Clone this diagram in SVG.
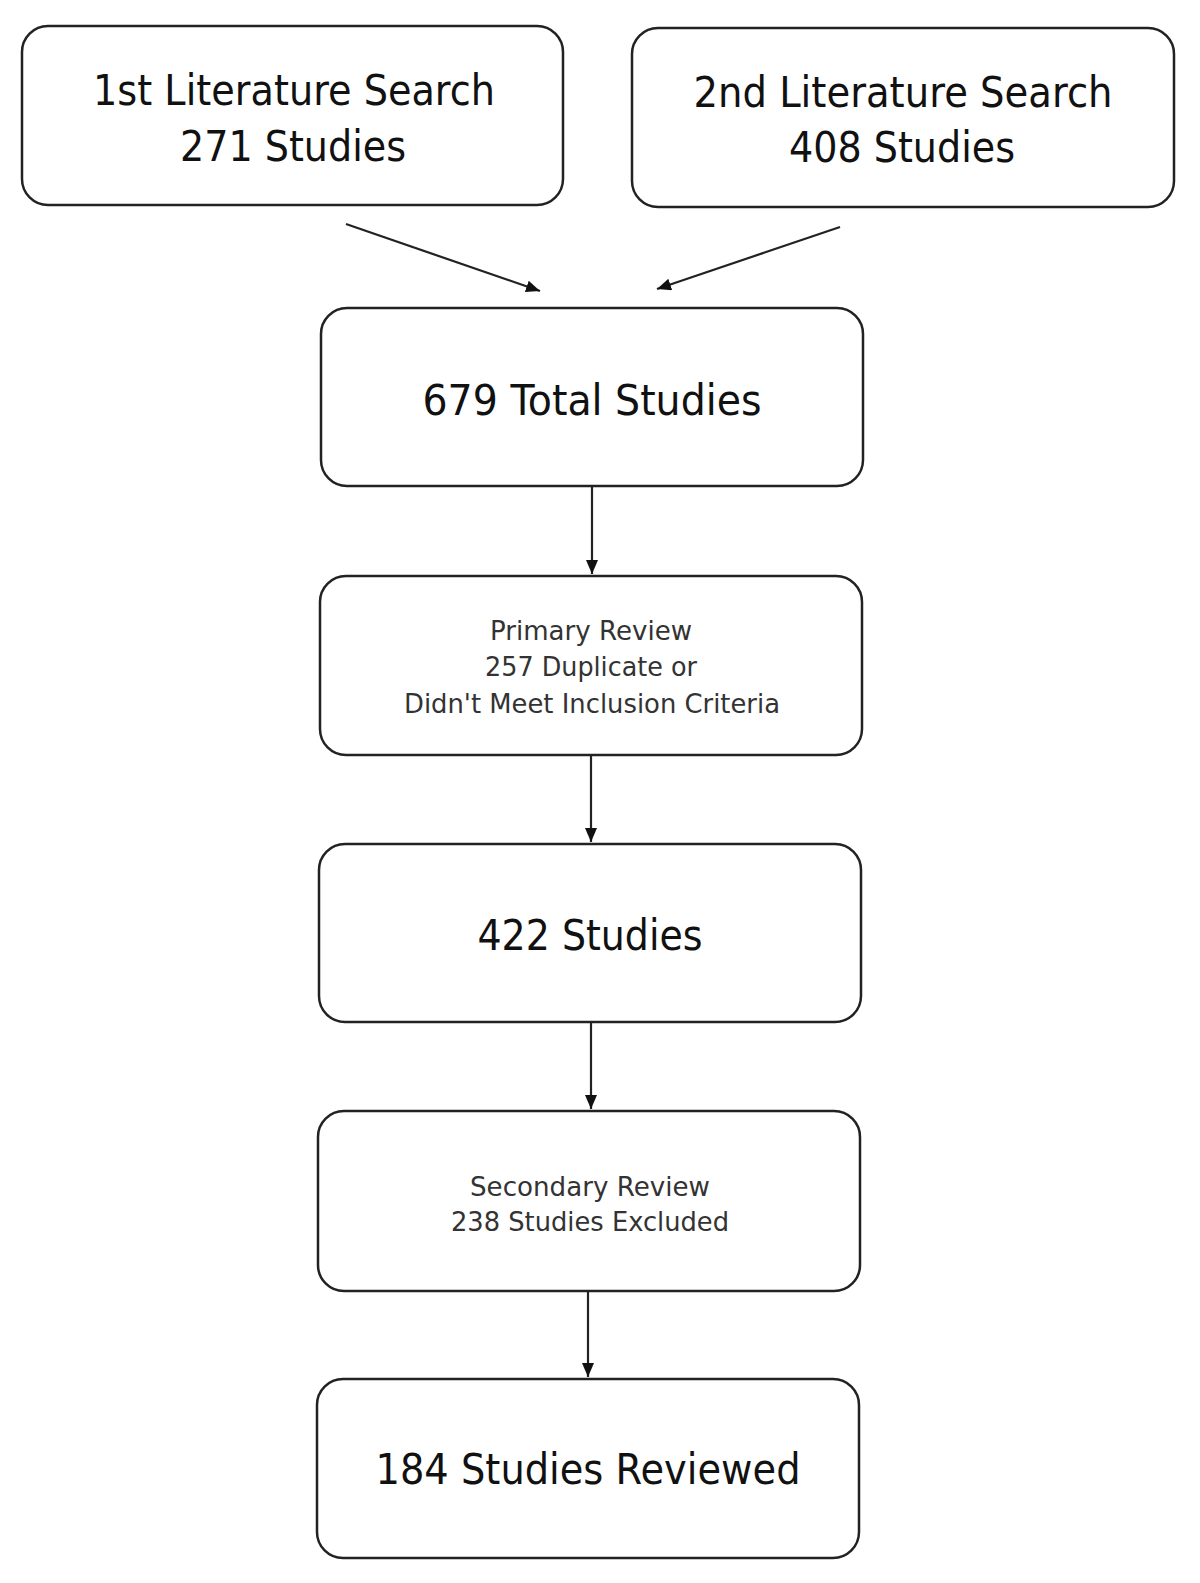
<svg xmlns="http://www.w3.org/2000/svg" width="1200" height="1583" viewBox="0 0 1200 1583">
<defs>
<style>
.box{fill:#fff;stroke:#222;stroke-width:2.5}
.big{font-family:"DejaVu Sans","Liberation Sans",sans-serif;font-size:43px;fill:#111}
.small{font-family:"DejaVu Sans","Liberation Sans",sans-serif;font-size:27px;fill:#333}
.conn{stroke:#222;stroke-width:2.2;fill:none}
</style>
<marker id="ah" viewBox="0 0 14 12" refX="14" refY="6" markerWidth="14" markerHeight="12" markerUnits="userSpaceOnUse" orient="auto">
<path d="M0,0 L14,6 L0,12 Z" fill="#111"/>
</marker>
</defs>
<rect width="1200" height="1583" fill="#fff"/>
<g id="n1">
<rect class="box" x="22" y="26" width="541" height="179" rx="26"/>
<text class="big" x="294" y="105" text-anchor="middle" textLength="402" lengthAdjust="spacingAndGlyphs">1st Literature Search</text>
<text class="big" x="293" y="161" text-anchor="middle" textLength="226" lengthAdjust="spacingAndGlyphs">271 Studies</text>
</g>
<g id="n2">
<rect class="box" x="632" y="28" width="542" height="179" rx="26"/>
<text class="big" x="903" y="107" text-anchor="middle" textLength="419" lengthAdjust="spacingAndGlyphs">2nd Literature Search</text>
<text class="big" x="902" y="162" text-anchor="middle" textLength="226" lengthAdjust="spacingAndGlyphs">408 Studies</text>
</g>
<g id="n3">
<rect class="box" x="321" y="308" width="542" height="178" rx="26"/>
<text class="big" x="592" y="415" text-anchor="middle" textLength="339" lengthAdjust="spacingAndGlyphs">679 Total Studies</text>
</g>
<g id="n4">
<rect class="box" x="320" y="576" width="542" height="179" rx="26"/>
<text class="small" x="591" y="640" text-anchor="middle" textLength="202" lengthAdjust="spacingAndGlyphs">Primary Review</text>
<text class="small" x="591" y="676" text-anchor="middle" textLength="212" lengthAdjust="spacingAndGlyphs">257 Duplicate or</text>
<text class="small" x="592" y="713" text-anchor="middle" textLength="376" lengthAdjust="spacingAndGlyphs">Didn't Meet Inclusion Criteria</text>
</g>
<g id="n5">
<rect class="box" x="319" y="844" width="542" height="178" rx="26"/>
<text class="big" x="590" y="950" text-anchor="middle" textLength="225" lengthAdjust="spacingAndGlyphs">422 Studies</text>
</g>
<g id="n6">
<rect class="box" x="318" y="1111" width="542" height="180" rx="26"/>
<text class="small" x="590" y="1196" text-anchor="middle" textLength="240" lengthAdjust="spacingAndGlyphs">Secondary Review</text>
<text class="small" x="590" y="1231" text-anchor="middle" textLength="278" lengthAdjust="spacingAndGlyphs">238 Studies Excluded</text>
</g>
<g id="n7">
<rect class="box" x="317" y="1379" width="542" height="179" rx="26"/>
<text class="big" x="588" y="1484" text-anchor="middle" textLength="425" lengthAdjust="spacingAndGlyphs">184 Studies Reviewed</text>
</g>
<g id="connectors">
<line class="conn" x1="346" y1="224" x2="540" y2="291" marker-end="url(#ah)"/>
<line class="conn" x1="840" y1="227" x2="657" y2="289" marker-end="url(#ah)"/>
<line class="conn" x1="592" y1="486" x2="592" y2="574" marker-end="url(#ah)"/>
<line class="conn" x1="591" y1="755" x2="591" y2="842" marker-end="url(#ah)"/>
<line class="conn" x1="591" y1="1022" x2="591" y2="1109" marker-end="url(#ah)"/>
<line class="conn" x1="588" y1="1291" x2="588" y2="1377" marker-end="url(#ah)"/>
</g>
</svg>
